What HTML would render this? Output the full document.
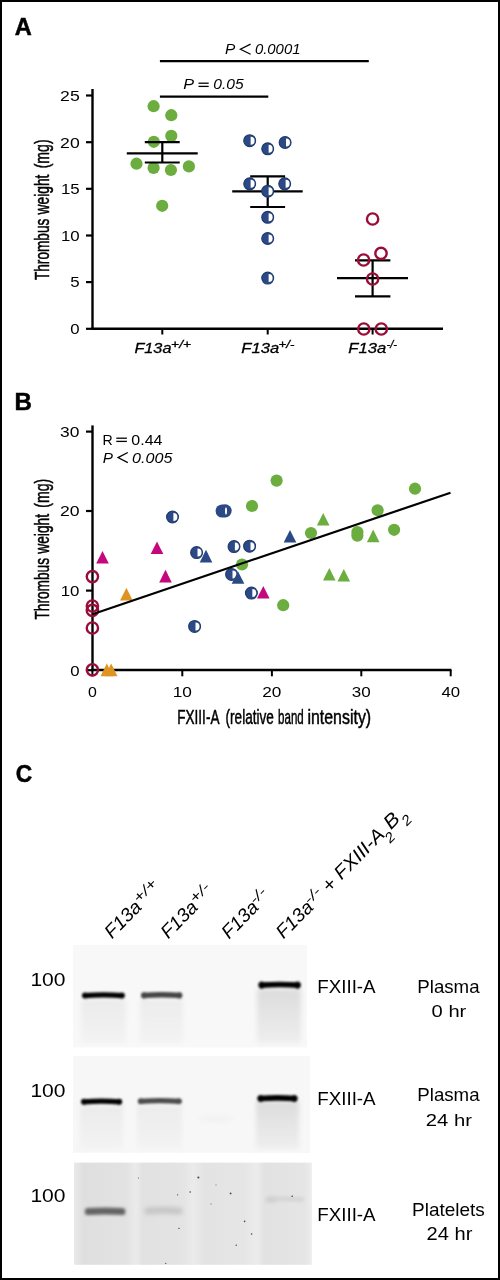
<!DOCTYPE html>
<html><head><meta charset="utf-8"><title>Figure</title>
<style>
html,body{margin:0;padding:0;background:#fff;}
body{width:500px;height:1280px;overflow:hidden;}
svg{display:block;will-change:transform;font-family:"Liberation Sans", sans-serif;}
</style></head>
<body>
<svg width="500" height="1280" viewBox="0 0 500 1280">
<defs>
<filter id="b10" x="-20%" y="-100%" width="140%" height="300%"><feGaussianBlur stdDeviation="1.0"/></filter>
<filter id="b12" x="-20%" y="-100%" width="140%" height="300%"><feGaussianBlur stdDeviation="1.2"/></filter>
<filter id="b15" x="-20%" y="-100%" width="140%" height="300%"><feGaussianBlur stdDeviation="1.5"/></filter>
<filter id="b20" x="-20%" y="-20%" width="140%" height="140%"><feGaussianBlur stdDeviation="2.0"/></filter>
</defs>
<rect x="0" y="0" width="500" height="1280" fill="#fff"/>
<text stroke="#000" stroke-width="0.5" x="14.71" y="34.90" font-size="24.27" textLength="17.01" lengthAdjust="spacingAndGlyphs"><tspan font-weight="bold">A</tspan></text>
<line x1="92.5" y1="89" x2="92.5" y2="329.8" stroke="#000" stroke-width="2.4"/>
<line x1="91.3" y1="328.8" x2="443" y2="328.8" stroke="#000" stroke-width="2.4"/>
<line x1="86" y1="95.5" x2="92.5" y2="95.5" stroke="#000" stroke-width="2.2"/>
<text x="60.11" y="100.80" font-size="15.29" textLength="19.63" lengthAdjust="spacingAndGlyphs"><tspan>25</tspan></text>
<line x1="86" y1="142.2" x2="92.5" y2="142.2" stroke="#000" stroke-width="2.2"/>
<text x="60.12" y="147.50" font-size="15.29" textLength="19.57" lengthAdjust="spacingAndGlyphs"><tspan>20</tspan></text>
<line x1="86" y1="188.8" x2="92.5" y2="188.8" stroke="#000" stroke-width="2.2"/>
<text x="60.91" y="194.10" font-size="15.29" textLength="18.80" lengthAdjust="spacingAndGlyphs"><tspan>15</tspan></text>
<line x1="86" y1="235.5" x2="92.5" y2="235.5" stroke="#000" stroke-width="2.2"/>
<text x="60.92" y="240.80" font-size="15.29" textLength="18.74" lengthAdjust="spacingAndGlyphs"><tspan>10</tspan></text>
<line x1="86" y1="282.1" x2="92.5" y2="282.1" stroke="#000" stroke-width="2.2"/>
<text x="70.32" y="287.40" font-size="15.29" textLength="9.38" lengthAdjust="spacingAndGlyphs"><tspan>5</tspan></text>
<line x1="86" y1="328.8" x2="92.5" y2="328.8" stroke="#000" stroke-width="2.2"/>
<text x="70.35" y="334.10" font-size="15.29" textLength="9.31" lengthAdjust="spacingAndGlyphs"><tspan>0</tspan></text>
<line x1="162.3" y1="328.8" x2="162.3" y2="334.5" stroke="#000" stroke-width="2.0"/>
<line x1="267.7" y1="328.8" x2="267.7" y2="334.5" stroke="#000" stroke-width="2.0"/>
<line x1="372.6" y1="328.8" x2="372.6" y2="334.5" stroke="#000" stroke-width="2.0"/>
<text transform="rotate(-90)" stroke="#000" stroke-width="0.5" x="-280.11" y="49.10" font-size="20.20" textLength="61.50" lengthAdjust="spacingAndGlyphs"><tspan>Thrombus</tspan></text>
<text transform="rotate(-90)" stroke="#000" stroke-width="0.5" x="-214.38" y="49.10" font-size="20.20" textLength="39.78" lengthAdjust="spacingAndGlyphs"><tspan>weight</tspan></text>
<text transform="rotate(-90)" stroke="#000" stroke-width="0.5" x="-168.37" y="49.10" font-size="20.20" textLength="28.95" lengthAdjust="spacingAndGlyphs"><tspan>(mg)</tspan></text>
<text stroke="#000" stroke-width="0.3" x="134.40" y="352.50" font-size="14.83" textLength="37.06" lengthAdjust="spacingAndGlyphs"><tspan font-style="italic">F13a</tspan></text>
<text stroke="#000" stroke-width="0.3" x="171.13" y="347.50" font-size="10.43" textLength="19.85" lengthAdjust="spacingAndGlyphs"><tspan font-style="italic">+/+</tspan></text>
<text stroke="#000" stroke-width="0.3" x="241.39" y="352.50" font-size="14.83" textLength="37.78" lengthAdjust="spacingAndGlyphs"><tspan font-style="italic">F13a</tspan></text>
<text stroke="#000" stroke-width="0.3" x="278.46" y="347.50" font-size="10.43" textLength="15.84" lengthAdjust="spacingAndGlyphs"><tspan font-style="italic">+/-</tspan></text>
<text stroke="#000" stroke-width="0.3" x="348.39" y="352.50" font-size="14.83" textLength="37.78" lengthAdjust="spacingAndGlyphs"><tspan font-style="italic">F13a</tspan></text>
<text stroke="#000" stroke-width="0.3" x="386.42" y="347.90" font-size="10.00" textLength="10.63" lengthAdjust="spacingAndGlyphs"><tspan font-style="italic">-/-</tspan></text>
<line x1="159.9" y1="61.1" x2="368.8" y2="61.1" stroke="#000" stroke-width="2.2"/>
<line x1="159.9" y1="96.6" x2="268.3" y2="96.6" stroke="#000" stroke-width="2.2"/>
<text x="183.30" y="88.80" font-size="14.83" textLength="10.80" lengthAdjust="spacingAndGlyphs"><tspan font-style="italic">P</tspan></text>
<text x="213.32" y="88.80" font-size="14.57" textLength="30.34" lengthAdjust="spacingAndGlyphs"><tspan font-style="italic">0.05</tspan></text>
<line x1="198.5" y1="83.2" x2="208.7" y2="83.2" stroke="#000" stroke-width="1.3"/>
<line x1="198.5" y1="86.4" x2="208.7" y2="86.4" stroke="#000" stroke-width="1.3"/>
<text x="225.03" y="54.40" font-size="15.12" textLength="10.27" lengthAdjust="spacingAndGlyphs"><tspan font-style="italic">P</tspan></text>
<text x="254.95" y="54.40" font-size="14.86" textLength="45.50" lengthAdjust="spacingAndGlyphs"><tspan font-style="italic">0.0001</tspan></text>
<path d="M250.6,44.1 L240.4,49.2 L250.6,54.3" fill="none" stroke="#000" stroke-width="1.25"/>
<circle cx="153.6" cy="106.2" r="6.1" fill="#6bad3f"/>
<circle cx="171.3" cy="115.2" r="6.1" fill="#6bad3f"/>
<circle cx="171.3" cy="135.9" r="6.1" fill="#6bad3f"/>
<circle cx="153.8" cy="141.8" r="6.1" fill="#6bad3f"/>
<circle cx="136.5" cy="163.7" r="6.1" fill="#6bad3f"/>
<circle cx="153.6" cy="167.9" r="6.1" fill="#6bad3f"/>
<circle cx="170.9" cy="170" r="6.1" fill="#6bad3f"/>
<circle cx="188.9" cy="166.4" r="6.1" fill="#6bad3f"/>
<circle cx="162.2" cy="205.8" r="6.1" fill="#6bad3f"/>
<line x1="126.8" y1="153.3" x2="197.7" y2="153.3" stroke="#000" stroke-width="2.3"/>
<line x1="144.8" y1="142.2" x2="179.7" y2="142.2" stroke="#000" stroke-width="2.2"/>
<line x1="144.8" y1="162.5" x2="179.7" y2="162.5" stroke="#000" stroke-width="2.2"/>
<line x1="162.3" y1="142.2" x2="162.3" y2="162.5" stroke="#000" stroke-width="2.2"/>
<circle cx="249.7" cy="140.7" r="5.95" fill="#2a4986" stroke="#1f386b" stroke-width="1.1"/>
<path d="M250.60,136.70 A4.0,4.0 0 0 1 250.60,144.70 Z" fill="#fff"/>
<circle cx="267.7" cy="148.8" r="5.95" fill="#2a4986" stroke="#1f386b" stroke-width="1.1"/>
<path d="M268.60,144.80 A4.0,4.0 0 0 1 268.60,152.80 Z" fill="#fff"/>
<circle cx="285.1" cy="142.5" r="5.95" fill="#2a4986" stroke="#1f386b" stroke-width="1.1"/>
<path d="M286.00,138.50 A4.0,4.0 0 0 1 286.00,146.50 Z" fill="#fff"/>
<circle cx="249.7" cy="183.8" r="5.95" fill="#2a4986" stroke="#1f386b" stroke-width="1.1"/>
<path d="M250.60,179.80 A4.0,4.0 0 0 1 250.60,187.80 Z" fill="#fff"/>
<circle cx="284.7" cy="183.8" r="5.95" fill="#2a4986" stroke="#1f386b" stroke-width="1.1"/>
<path d="M285.60,179.80 A4.0,4.0 0 0 1 285.60,187.80 Z" fill="#fff"/>
<circle cx="267.7" cy="217.3" r="5.95" fill="#2a4986" stroke="#1f386b" stroke-width="1.1"/>
<path d="M268.60,213.30 A4.0,4.0 0 0 1 268.60,221.30 Z" fill="#fff"/>
<circle cx="267.7" cy="238.5" r="5.95" fill="#2a4986" stroke="#1f386b" stroke-width="1.1"/>
<path d="M268.60,234.50 A4.0,4.0 0 0 1 268.60,242.50 Z" fill="#fff"/>
<circle cx="267.7" cy="278.1" r="5.95" fill="#2a4986" stroke="#1f386b" stroke-width="1.1"/>
<path d="M268.60,274.10 A4.0,4.0 0 0 1 268.60,282.10 Z" fill="#fff"/>
<line x1="232.2" y1="191.4" x2="302.7" y2="191.4" stroke="#000" stroke-width="2.3"/>
<line x1="250.2" y1="176.3" x2="285.1" y2="176.3" stroke="#000" stroke-width="2.2"/>
<line x1="250.2" y1="207" x2="285.1" y2="207" stroke="#000" stroke-width="2.2"/>
<line x1="267.7" y1="176.3" x2="267.7" y2="207" stroke="#000" stroke-width="2.2"/>
<circle cx="267.7" cy="191.2" r="5.95" fill="#2a4986" stroke="#1f386b" stroke-width="1.1"/>
<path d="M268.60,187.20 A4.0,4.0 0 0 1 268.60,195.20 Z" fill="#fff"/>
<line x1="337" y1="278.2" x2="408" y2="278.2" stroke="#000" stroke-width="2.3"/>
<line x1="355" y1="260.4" x2="390.4" y2="260.4" stroke="#000" stroke-width="2.2"/>
<line x1="355" y1="296.4" x2="390.4" y2="296.4" stroke="#000" stroke-width="2.2"/>
<line x1="372.6" y1="260.4" x2="372.6" y2="296.4" stroke="#000" stroke-width="2.2"/>
<circle cx="372.6" cy="219" r="5.65" fill="none" stroke="#9b0d39" stroke-width="2.4"/>
<circle cx="381" cy="253.4" r="5.65" fill="none" stroke="#9b0d39" stroke-width="2.4"/>
<circle cx="363.6" cy="260" r="5.65" fill="none" stroke="#9b0d39" stroke-width="2.4"/>
<circle cx="372.6" cy="279" r="5.65" fill="none" stroke="#9b0d39" stroke-width="2.4"/>
<circle cx="363.8" cy="329" r="5.65" fill="none" stroke="#9b0d39" stroke-width="2.4"/>
<circle cx="381.3" cy="329" r="5.65" fill="none" stroke="#9b0d39" stroke-width="2.4"/>
<text stroke="#000" stroke-width="0.5" x="14.59" y="409.70" font-size="24.13" textLength="17.41" lengthAdjust="spacingAndGlyphs"><tspan font-weight="bold">B</tspan></text>
<line x1="92.5" y1="425.4" x2="92.5" y2="671" stroke="#000" stroke-width="2.4"/>
<line x1="91.3" y1="670" x2="451.5" y2="670" stroke="#000" stroke-width="2.4"/>
<line x1="86" y1="431.6" x2="92.5" y2="431.6" stroke="#000" stroke-width="2.2"/>
<text x="60.14" y="436.90" font-size="15.29" textLength="19.34" lengthAdjust="spacingAndGlyphs"><tspan>30</tspan></text>
<line x1="86" y1="511" x2="92.5" y2="511" stroke="#000" stroke-width="2.2"/>
<text x="59.92" y="516.30" font-size="15.29" textLength="19.57" lengthAdjust="spacingAndGlyphs"><tspan>20</tspan></text>
<line x1="86" y1="590.6" x2="92.5" y2="590.6" stroke="#000" stroke-width="2.2"/>
<text x="60.72" y="595.90" font-size="15.29" textLength="18.74" lengthAdjust="spacingAndGlyphs"><tspan>10</tspan></text>
<line x1="86" y1="670.2" x2="92.5" y2="670.2" stroke="#000" stroke-width="2.2"/>
<text x="70.15" y="675.50" font-size="15.29" textLength="9.31" lengthAdjust="spacingAndGlyphs"><tspan>0</tspan></text>
<line x1="92.4" y1="670" x2="92.4" y2="676.3" stroke="#000" stroke-width="2.0"/>
<text x="87.98" y="696.60" font-size="15.29" textLength="8.84" lengthAdjust="spacingAndGlyphs"><tspan>0</tspan></text>
<line x1="182.3" y1="670" x2="182.3" y2="676.3" stroke="#000" stroke-width="2.0"/>
<text x="172.79" y="696.60" font-size="15.29" textLength="19.19" lengthAdjust="spacingAndGlyphs"><tspan>10</tspan></text>
<line x1="271.9" y1="670" x2="271.9" y2="676.3" stroke="#000" stroke-width="2.0"/>
<text x="262.23" y="696.60" font-size="15.29" textLength="19.14" lengthAdjust="spacingAndGlyphs"><tspan>20</tspan></text>
<line x1="361.3" y1="670" x2="361.3" y2="676.3" stroke="#000" stroke-width="2.0"/>
<text x="351.85" y="696.60" font-size="15.29" textLength="18.91" lengthAdjust="spacingAndGlyphs"><tspan>30</tspan></text>
<line x1="450.7" y1="670" x2="450.7" y2="676.3" stroke="#000" stroke-width="2.0"/>
<text x="441.52" y="696.60" font-size="15.29" textLength="18.64" lengthAdjust="spacingAndGlyphs"><tspan>40</tspan></text>
<text transform="rotate(-90)" stroke="#000" stroke-width="0.5" x="-619.51" y="49.10" font-size="20.20" textLength="61.50" lengthAdjust="spacingAndGlyphs"><tspan>Thrombus</tspan></text>
<text transform="rotate(-90)" stroke="#000" stroke-width="0.5" x="-553.78" y="49.10" font-size="20.20" textLength="39.78" lengthAdjust="spacingAndGlyphs"><tspan>weight</tspan></text>
<text transform="rotate(-90)" stroke="#000" stroke-width="0.5" x="-507.77" y="49.10" font-size="20.20" textLength="28.95" lengthAdjust="spacingAndGlyphs"><tspan>(mg)</tspan></text>
<text stroke="#000" stroke-width="0.5" x="177.29" y="723.80" font-size="20.20" textLength="42.14" lengthAdjust="spacingAndGlyphs"><tspan>FXIII-A</tspan></text>
<text stroke="#000" stroke-width="0.5" x="225.56" y="723.80" font-size="20.20" textLength="48.35" lengthAdjust="spacingAndGlyphs"><tspan>(relative</tspan></text>
<text stroke="#000" stroke-width="0.5" x="278.06" y="723.80" font-size="20.20" textLength="25.69" lengthAdjust="spacingAndGlyphs"><tspan>band</tspan></text>
<text stroke="#000" stroke-width="0.5" x="307.43" y="723.80" font-size="20.20" textLength="63.75" lengthAdjust="spacingAndGlyphs"><tspan>intensity)</tspan></text>
<text x="102.44" y="444.60" font-size="15.12" textLength="10.22" lengthAdjust="spacingAndGlyphs"><tspan>R</tspan></text>
<text x="131.38" y="444.60" font-size="14.86" textLength="31.09" lengthAdjust="spacingAndGlyphs"><tspan>0.44</tspan></text>
<line x1="116.3" y1="438.2" x2="126.9" y2="438.2" stroke="#000" stroke-width="1.3"/>
<line x1="116.3" y1="441.4" x2="126.9" y2="441.4" stroke="#000" stroke-width="1.3"/>
<text x="102.73" y="462.60" font-size="14.83" textLength="10.17" lengthAdjust="spacingAndGlyphs"><tspan font-style="italic">P</tspan></text>
<text x="132.10" y="462.60" font-size="14.57" textLength="40.26" lengthAdjust="spacingAndGlyphs"><tspan font-style="italic">0.005</tspan></text>
<path d="M127.8,452.5 L118.0,457.6 L127.8,462.6" fill="none" stroke="#000" stroke-width="1.25"/>
<circle cx="92.4" cy="576.6" r="5.65" fill="none" stroke="#9b0d39" stroke-width="2.4"/>
<circle cx="92.4" cy="606" r="5.65" fill="none" stroke="#9b0d39" stroke-width="2.4"/>
<circle cx="92.4" cy="610.4" r="5.65" fill="none" stroke="#9b0d39" stroke-width="2.4"/>
<circle cx="92.4" cy="628" r="5.65" fill="none" stroke="#9b0d39" stroke-width="2.4"/>
<circle cx="92.4" cy="669.8" r="5.65" fill="none" stroke="#9b0d39" stroke-width="2.4"/>
<circle cx="276.6" cy="480.6" r="6.1" fill="#6bad3f"/>
<circle cx="252" cy="506" r="6.1" fill="#6bad3f"/>
<circle cx="242" cy="564.5" r="6.1" fill="#6bad3f"/>
<circle cx="283.2" cy="605.2" r="6.1" fill="#6bad3f"/>
<circle cx="311" cy="533" r="6.1" fill="#6bad3f"/>
<circle cx="357.4" cy="532" r="6.1" fill="#6bad3f"/>
<circle cx="357.4" cy="535.6" r="6.1" fill="#6bad3f"/>
<circle cx="377.6" cy="510.3" r="6.1" fill="#6bad3f"/>
<circle cx="394.1" cy="529.8" r="6.1" fill="#6bad3f"/>
<circle cx="415" cy="488.7" r="6.1" fill="#6bad3f"/>
<path d="M323.20,513.00 L329.50,525.60 L316.90,525.60 Z" fill="#6bad3f"/>
<path d="M373.20,529.60 L379.50,542.20 L366.90,542.20 Z" fill="#6bad3f"/>
<path d="M329.30,567.90 L335.60,580.50 L323.00,580.50 Z" fill="#6bad3f"/>
<path d="M343.80,569.00 L350.10,581.60 L337.50,581.60 Z" fill="#6bad3f"/>
<circle cx="172.5" cy="517" r="5.95" fill="#2a4986" stroke="#1f386b" stroke-width="1.1"/>
<path d="M173.40,513.00 A4.0,4.0 0 0 1 173.40,521.00 Z" fill="#fff"/>
<circle cx="196.6" cy="552.6" r="5.95" fill="#2a4986" stroke="#1f386b" stroke-width="1.1"/>
<path d="M197.50,548.60 A4.0,4.0 0 0 1 197.50,556.60 Z" fill="#fff"/>
<circle cx="234" cy="546.6" r="5.95" fill="#2a4986" stroke="#1f386b" stroke-width="1.1"/>
<path d="M234.90,542.60 A4.0,4.0 0 0 1 234.90,550.60 Z" fill="#fff"/>
<circle cx="249.6" cy="546.2" r="5.95" fill="#2a4986" stroke="#1f386b" stroke-width="1.1"/>
<path d="M250.50,542.20 A4.0,4.0 0 0 1 250.50,550.20 Z" fill="#fff"/>
<circle cx="231.6" cy="574.4" r="5.95" fill="#2a4986" stroke="#1f386b" stroke-width="1.1"/>
<path d="M232.50,570.40 A4.0,4.0 0 0 1 232.50,578.40 Z" fill="#fff"/>
<circle cx="251.4" cy="593.1" r="5.95" fill="#2a4986" stroke="#1f386b" stroke-width="1.1"/>
<path d="M252.30,589.10 A4.0,4.0 0 0 1 252.30,597.10 Z" fill="#fff"/>
<circle cx="194.6" cy="626.4" r="5.95" fill="#2a4986" stroke="#1f386b" stroke-width="1.1"/>
<path d="M195.50,622.40 A4.0,4.0 0 0 1 195.50,630.40 Z" fill="#fff"/>
<circle cx="222.2" cy="511.0" r="6.6" fill="#2a4986"/><circle cx="225.1" cy="510.8" r="6.6" fill="#2a4986"/>
<ellipse cx="226.0" cy="510.9" rx="1.0" ry="3.6" fill="#fff"/>
<path d="M206.00,549.80 L212.30,562.40 L199.70,562.40 Z" fill="#2a4986"/>
<path d="M238.00,571.20 L244.30,583.80 L231.70,583.80 Z" fill="#2a4986"/>
<path d="M290.00,530.00 L296.30,542.60 L283.70,542.60 Z" fill="#2a4986"/>
<path d="M102.50,551.00 L108.80,563.60 L96.20,563.60 Z" fill="#c5077c"/>
<path d="M157.00,541.40 L163.30,554.00 L150.70,554.00 Z" fill="#c5077c"/>
<path d="M165.50,569.80 L171.80,582.40 L159.20,582.40 Z" fill="#c5077c"/>
<path d="M263.30,585.90 L269.60,598.50 L257.00,598.50 Z" fill="#c5077c"/>
<path d="M126.40,587.80 L132.70,600.40 L120.10,600.40 Z" fill="#de9422"/>
<path d="M106.80,663.60 L113.10,676.20 L100.50,676.20 Z" fill="#de9422"/>
<path d="M111.20,663.60 L117.50,676.20 L104.90,676.20 Z" fill="#de9422"/>
<line x1="92.5" y1="614.2" x2="450.5" y2="492.7" stroke="#000" stroke-width="2.2"/>
<text stroke="#000" stroke-width="0.5" x="15.87" y="782.30" font-size="24.37" textLength="16.46" lengthAdjust="spacingAndGlyphs"><tspan font-weight="bold">C</tspan></text>
<g transform="translate(112.4,939.0) rotate(-45.5)"><text x="-0.59" y="-0.00" font-size="18.90" font-style="italic" textLength="43.94" lengthAdjust="spacingAndGlyphs">F13a</text><text x="43.89" y="-6.00" font-size="14.00" font-style="italic" textLength="26.92" lengthAdjust="spacingAndGlyphs">+/+</text></g>
<g transform="translate(168.6,939.2) rotate(-45.5)"><text x="-0.59" y="-0.00" font-size="18.90" font-style="italic" textLength="43.94" lengthAdjust="spacingAndGlyphs">F13a</text><text x="43.89" y="-6.00" font-size="14.00" font-style="italic" textLength="22.25" lengthAdjust="spacingAndGlyphs">+/-</text></g>
<g transform="translate(229.4,939.4) rotate(-45.5)"><text x="-0.59" y="-0.00" font-size="18.90" font-style="italic" textLength="43.94" lengthAdjust="spacingAndGlyphs">F13a</text><text x="42.23" y="-6.00" font-size="14.00" font-style="italic" textLength="17.57" lengthAdjust="spacingAndGlyphs">-/-</text></g>
<g transform="translate(284.0,939.2) rotate(-45.5)"><text x="-0.59" y="-0.00" font-size="18.90" font-style="italic" textLength="43.94" lengthAdjust="spacingAndGlyphs">F13a</text><text x="42.23" y="-6.00" font-size="14.00" font-style="italic" textLength="17.57" lengthAdjust="spacingAndGlyphs">-/-</text><text x="64.97" y="0.60" font-size="20.00" textLength="11.68" lengthAdjust="spacingAndGlyphs">+</text><text x="82.18" y="-0.00" font-size="18.90" font-style="italic" textLength="62.92" lengthAdjust="spacingAndGlyphs">FXIII-A</text><text x="142.48" y="8.80" font-size="14.00" font-style="italic" textLength="8.56" lengthAdjust="spacingAndGlyphs">2</text><text x="152.73" y="-0.00" font-size="19.40" font-style="italic" textLength="14.49" lengthAdjust="spacingAndGlyphs">B</text><text x="166.58" y="8.80" font-size="14.00" font-style="italic" textLength="8.56" lengthAdjust="spacingAndGlyphs">2</text></g>
<rect x="72.9" y="945.0" width="234.1" height="102.40000000000009" fill="#f8f8f8"/>
<linearGradient id="g1" x1="0" y1="0" x2="0" y2="1"><stop offset="0" stop-color="#ebebeb"/><stop offset="1" stop-color="#f3f3f3"/></linearGradient>
<filter id="f1" x="-30%" y="-30%" width="160%" height="160%"><feGaussianBlur stdDeviation="2.5"/></filter>
<rect x="81" y="999" width="45" height="44" fill="url(#g1)" filter="url(#f1)"/>
<linearGradient id="g2" x1="0" y1="0" x2="0" y2="1"><stop offset="0" stop-color="#ececec"/><stop offset="1" stop-color="#f3f3f3"/></linearGradient>
<filter id="f2" x="-30%" y="-30%" width="160%" height="160%"><feGaussianBlur stdDeviation="2.5"/></filter>
<rect x="140" y="999" width="43" height="44" fill="url(#g2)" filter="url(#f2)"/>
<linearGradient id="g3" x1="0" y1="0" x2="0" y2="1"><stop offset="0" stop-color="#dcdcdc"/><stop offset="1" stop-color="#eeeeee"/></linearGradient>
<filter id="f3" x="-30%" y="-30%" width="160%" height="160%"><feGaussianBlur stdDeviation="2.5"/></filter>
<rect x="257" y="989" width="44" height="54" fill="url(#g3)" filter="url(#f3)"/>
<filter id="f4" filterUnits="userSpaceOnUse" x="72" y="980.0" width="62.80000000000001" height="30.40000000000009"><feGaussianBlur stdDeviation="1.2"/></filter>
<g filter="url(#f4)"><path d="M84.6,995.6 Q103.4,994.2 122.2,995.6" stroke="#000" stroke-width="5.2" stroke-linecap="round" fill="none"/><ellipse cx="85.1" cy="995.6" rx="2.9" ry="3.0" fill="#000"/><ellipse cx="121.7" cy="995.6" rx="2.9" ry="3.0" fill="#000"/></g>
<filter id="f5" filterUnits="userSpaceOnUse" x="131" y="979.6" width="61.400000000000006" height="30.799999999999955"><feGaussianBlur stdDeviation="1.3"/></filter>
<g filter="url(#f5)"><path d="M143.7,995.4 Q161.7,994.0 179.7,995.4" stroke="#444" stroke-width="5.4" stroke-linecap="round" fill="none"/><ellipse cx="144.2" cy="995.4" rx="3.0" ry="3.1" fill="#444"/><ellipse cx="179.2" cy="995.4" rx="3.0" ry="3.1" fill="#444"/></g>
<filter id="f6" filterUnits="userSpaceOnUse" x="248.39999999999998" y="969.1999999999999" width="62.400000000000034" height="31.200000000000045"><feGaussianBlur stdDeviation="1.25"/></filter>
<g filter="url(#f6)"><path d="M261.2,985.1 Q279.6,983.8 298.0,985.1" stroke="#000" stroke-width="5.6" stroke-linecap="round" fill="none"/><ellipse cx="261.7" cy="985.1" rx="3.1" ry="3.6" fill="#000"/><ellipse cx="297.5" cy="985.1" rx="3.1" ry="3.6" fill="#000"/></g>
<rect x="72.9" y="1055.8" width="237.1" height="97.0" fill="#f7f7f7"/>
<linearGradient id="g4" x1="0" y1="0" x2="0" y2="1"><stop offset="0" stop-color="#ebebeb"/><stop offset="1" stop-color="#f3f3f3"/></linearGradient>
<filter id="f7" x="-30%" y="-30%" width="160%" height="160%"><feGaussianBlur stdDeviation="2.5"/></filter>
<rect x="80" y="1105" width="43" height="44" fill="url(#g4)" filter="url(#f7)"/>
<linearGradient id="g5" x1="0" y1="0" x2="0" y2="1"><stop offset="0" stop-color="#ececec"/><stop offset="1" stop-color="#f3f3f3"/></linearGradient>
<filter id="f8" x="-30%" y="-30%" width="160%" height="160%"><feGaussianBlur stdDeviation="2.5"/></filter>
<rect x="137" y="1105" width="45" height="44" fill="url(#g5)" filter="url(#f8)"/>
<linearGradient id="g6" x1="0" y1="0" x2="0" y2="1"><stop offset="0" stop-color="#dcdcdc"/><stop offset="1" stop-color="#eeeeee"/></linearGradient>
<filter id="f9" x="-30%" y="-30%" width="160%" height="160%"><feGaussianBlur stdDeviation="2.5"/></filter>
<rect x="256" y="1101" width="43" height="48" fill="url(#g6)" filter="url(#f9)"/>
<filter id="f10" filterUnits="userSpaceOnUse" x="71" y="1086.2" width="61.19999999999999" height="30.40000000000009"><feGaussianBlur stdDeviation="1.2"/></filter>
<g filter="url(#f10)"><path d="M83.6,1101.8 Q101.6,1100.4 119.6,1101.8" stroke="#000" stroke-width="5.2" stroke-linecap="round" fill="none"/><ellipse cx="84.1" cy="1101.8" rx="2.9" ry="3.0" fill="#000"/><ellipse cx="119.1" cy="1101.8" rx="2.9" ry="3.0" fill="#000"/></g>
<filter id="f11" filterUnits="userSpaceOnUse" x="127.80000000000001" y="1085.8" width="64.0" height="30.40000000000009"><feGaussianBlur stdDeviation="1.3"/></filter>
<g filter="url(#f11)"><path d="M140.4,1101.3 Q159.8,1100.0 179.2,1101.3" stroke="#4c4c4c" stroke-width="5.2" stroke-linecap="round" fill="none"/><ellipse cx="140.9" cy="1101.3" rx="2.9" ry="3.0" fill="#4c4c4c"/><ellipse cx="178.7" cy="1101.3" rx="2.9" ry="3.0" fill="#4c4c4c"/></g>
<filter id="f12" filterUnits="userSpaceOnUse" x="247.39999999999998" y="1082.6000000000001" width="60.200000000000045" height="31.199999999999818"><feGaussianBlur stdDeviation="1.25"/></filter>
<g filter="url(#f12)"><path d="M260.2,1098.5 Q277.5,1097.2 294.8,1098.5" stroke="#000" stroke-width="5.6" stroke-linecap="round" fill="none"/><ellipse cx="260.7" cy="1098.5" rx="3.1" ry="3.6" fill="#000"/><ellipse cx="294.3" cy="1098.5" rx="3.1" ry="3.6" fill="#000"/></g>
<filter id="f13" filterUnits="userSpaceOnUse" x="180" y="1100" width="80" height="40"><feGaussianBlur stdDeviation="2.5"/></filter>
<ellipse cx="216" cy="1119" rx="18" ry="3" fill="#f1f1f1" filter="url(#f13)"/>
<linearGradient id="g7" x1="0" y1="0" x2="1" y2="0"><stop offset="0" stop-color="#e9e9e9"/><stop offset="0.04" stop-color="#dfdfdf"/><stop offset="0.22" stop-color="#e2e2e2"/><stop offset="0.26" stop-color="#ebebeb"/><stop offset="0.29" stop-color="#e1e1e1"/><stop offset="0.46" stop-color="#e4e4e4"/><stop offset="0.5" stop-color="#ebebeb"/><stop offset="0.55" stop-color="#e3e3e3"/><stop offset="0.72" stop-color="#e6e6e6"/><stop offset="0.77" stop-color="#ececec"/><stop offset="0.8" stop-color="#e2e2e2"/><stop offset="0.97" stop-color="#e5e5e5"/><stop offset="1" stop-color="#ededed"/></linearGradient>
<rect x="74" y="1162.6" width="237.8" height="102.2" fill="url(#g7)"/>
<filter id="f14" filterUnits="userSpaceOnUse" x="74.8" y="1194.3" width="60.60000000000001" height="34.0"><feGaussianBlur stdDeviation="1.6"/></filter>
<g filter="url(#f14)"><path d="M88.3,1211.6 Q105.1,1210.2 121.9,1211.6" stroke="#646464" stroke-width="7.0" stroke-linecap="round" fill="none"/></g>
<filter id="f15" filterUnits="userSpaceOnUse" x="134.6" y="1193.6" width="58.0" height="34.0"><feGaussianBlur stdDeviation="1.9"/></filter>
<g filter="url(#f15)"><path d="M148.1,1210.9 Q163.6,1209.5 179.1,1210.9" stroke="#c6c6c6" stroke-width="7.0" stroke-linecap="round" fill="none"/></g>
<filter id="f16" filterUnits="userSpaceOnUse" x="256" y="1184.2" width="58" height="30.0"><feGaussianBlur stdDeviation="1.8"/></filter>
<g filter="url(#f16)"><path d="M268.5,1199.5 Q285.0,1198.2 301.5,1199.5" stroke="#d6d6d6" stroke-width="5" stroke-linecap="round" fill="none"/></g>
<filter id="f17" filterUnits="userSpaceOnUse" x="256" y="1184.6" width="30" height="30.0"><feGaussianBlur stdDeviation="2.0"/></filter>
<g filter="url(#f17)"><path d="M268.5,1199.9 Q271.0,1198.5 273.5,1199.9" stroke="#cfcfcf" stroke-width="5" stroke-linecap="round" fill="none"/></g>
<circle cx="198.4" cy="1177.4" r="1.0" fill="#444"/>
<circle cx="230.6" cy="1193.4" r="0.9" fill="#444"/>
<circle cx="244.6" cy="1221.4" r="0.8" fill="#444"/>
<circle cx="251.6" cy="1234" r="0.8" fill="#444"/>
<circle cx="236.2" cy="1245.2" r="0.7" fill="#444"/>
<circle cx="292.2" cy="1196.2" r="0.8" fill="#444"/>
<circle cx="190.2" cy="1192" r="0.8" fill="#444"/>
<circle cx="177.6" cy="1194.8" r="0.6" fill="#444"/>
<circle cx="179" cy="1228.4" r="0.7" fill="#444"/>
<circle cx="165.8" cy="1263.4" r="0.6" fill="#444"/>
<circle cx="138.4" cy="1178" r="0.5" fill="#444"/>
<circle cx="211" cy="1204" r="0.5" fill="#444"/>
<circle cx="216" cy="1185" r="0.5" fill="#444"/>
<text x="317.26" y="992.70" font-size="17.88" textLength="58.38" lengthAdjust="spacingAndGlyphs"><tspan>FXIII-A</tspan></text>
<text x="317.26" y="1104.50" font-size="17.88" textLength="58.38" lengthAdjust="spacingAndGlyphs"><tspan>FXIII-A</tspan></text>
<text x="317.26" y="1221.30" font-size="18.17" textLength="58.38" lengthAdjust="spacingAndGlyphs"><tspan>FXIII-A</tspan></text>
<text x="417.27" y="993.10" font-size="17.44" textLength="62.33" lengthAdjust="spacingAndGlyphs"><tspan>Plasma</tspan></text>
<text x="431.61" y="1017.40" font-size="16.46" textLength="34.72" lengthAdjust="spacingAndGlyphs"><tspan>0 hr</tspan></text>
<text x="417.27" y="1101.20" font-size="17.44" textLength="62.33" lengthAdjust="spacingAndGlyphs"><tspan>Plasma</tspan></text>
<text x="425.78" y="1126.00" font-size="16.87" textLength="46.15" lengthAdjust="spacingAndGlyphs"><tspan>24 hr</tspan></text>
<text x="412.04" y="1216.20" font-size="17.97" textLength="72.84" lengthAdjust="spacingAndGlyphs"><tspan>Platelets</tspan></text>
<text x="426.49" y="1240.00" font-size="17.83" textLength="45.85" lengthAdjust="spacingAndGlyphs"><tspan>24 hr</tspan></text>
<text x="30.40" y="985.80" font-size="18.86" textLength="35.13" lengthAdjust="spacingAndGlyphs"><tspan>100</tspan></text>
<text x="30.40" y="1097.20" font-size="18.29" textLength="35.13" lengthAdjust="spacingAndGlyphs"><tspan>100</tspan></text>
<text x="30.40" y="1201.80" font-size="18.86" textLength="35.13" lengthAdjust="spacingAndGlyphs"><tspan>100</tspan></text>
<rect x="1" y="1" width="498" height="1278" fill="none" stroke="#000" stroke-width="2"/>
</svg>
</body></html>
